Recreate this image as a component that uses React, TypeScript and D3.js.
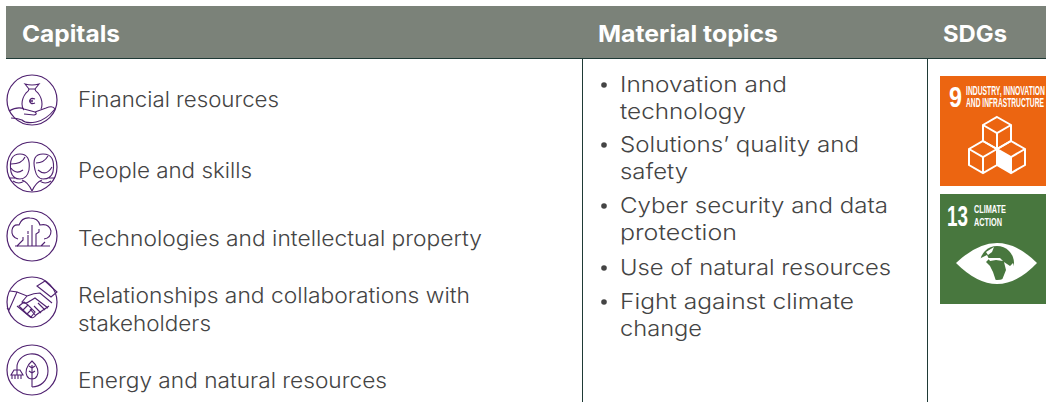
import React, { useRef, useEffect } from "react";
import * as d3 from "d3";

const headers = ["Capitals", "Material topics", "SDGs"];
const capitals = [
  ["Financial resources"],
  ["People and skills"],
  ["Technologies and intellectual property"],
  ["Relationships and collaborations with", "stakeholders"],
  ["Energy and natural resources"],
];
const topics = [
  ["Innovation and", "technology"],
  ["Solutions’ quality and", "safety"],
  ["Cyber security and data", "protection"],
  ["Use of natural resources"],
  ["Fight against climate", "change"],
];

const width = 1046;
const height = 402;
const font = "Inter, 'Open Sans', sans-serif";
const purple = "#4f2170";
const textColor = "#444444";

// row positions and text widths
const iconY = [100, 167, 236, 302, 370];
const labelY = [107, 178, 246, 303, 388];
const topicY = [92, 152, 213, 275, 309];
const headerX = [22, 598, 943];
const headerW = [98, 180, 64];
const capitalW = [[201], [174], [404], [392, 133], [309]];
const topicW = [[167, 126], [239, 68], [268, 117], [271], [234, 82]];

const cube = (x: number, y: number) => {
  const w = 14;
  const h = 8;
  const s = 16;
  return {
    outline: `M${x},${y}l${w},${h}v${s}l${-w},${h}l${-w},${-h}v${-s}z`,
    inner: `M${x - w},${y + h}l${w},${h}l${w},${-h}M${x},${y + 2 * h}v${s}`,
    leftFace: `M${x - w},${y + h}l${w},${h}v${s}l${-w},${-h}z`,
  };
};

// pictograms, drawn around the centre of each circle
const iconPaths = [
  [
    "M-7,-16L-3,-11H3L7,-16Q0,-14 -7,-16Z",
    "M-3,-11Q-3,-9 -6,-7Q-10,-2 -10,4Q-10,8 -8,10M3,-11Q3,-9 6,-7Q10,-2 10,4Q10,7 9,9",
    "M3,-1Q-2,-3 -2,1Q-2,5 3,3M-3,0.3H1M-3,1.7H1",
    "M-23,11Q-14,6 -8,9L3,12Q6,14 2,15L-8,14M3,12L14,8Q21,5 23,9Q14,20 4,22Q-6,24 -10,20Q-15,18 -21,18",
  ],
  [
    "M-21,5Q-24,-13 -12,-13Q-1,-13 -3,3Q-5,12 -12,12Q-19,12 -21,5ZM-21,-3Q-10,-3 -7,-10M-21,1Q-16,8 -9,3",
    "M21,5Q24,-13 11,-13Q-1,-13 3,3Q5,12 11,12Q19,12 21,5ZM4,-4Q12,-4 16,-11M20,0Q14,10 6,3",
    "M-23,11L-17,11M-10,13Q-4,15 0,24M10,13Q4,15 0,24V24M17,11L23,11M-19,14Q-13,18 -8,14M8,14Q13,18 19,14",
  ],
  [
    "M-14,3Q-21,1 -20,-6Q-19,-12 -13,-11Q-10,-19 -2,-18Q6,-18 8,-11Q17,-13 19,-5Q19,2 12,3",
    "M-15,10H15M-15,10L-9,4V1M-4,10V-1M0,10V-8M4,10V-2L7,-4V-7M9,10L13,6",
    "M-17,10H-14M15,10H18M-4,-2L-4,-5M0,-8L0,-11",
  ],
  [
    "M-22,-11L-15,-10L-23,8L-25,6M-15,-10L-5,-6Q2,-9 8,-9L20,1M-15,4L-3,14Q1,18 4,13L17,4M-5,-6L-10,0Q-7,3 -2,-1L3,-4L16,6",
    "M5,-16L19,-5L25,-10L13,-21Z",
    "M-13,4L-8,0L-4,3L-9,8ZM-9,8L-4,3L0,7L-5,12ZM-5,12L0,7L3,10L-1,15Z",
    "M6,1L13,8M2,4L9,11M-2,7L4,14",
  ],
  [
    "M0,17C8,17 16,11 16,1C16,-10 8,-17 -2,-16C-10,-15 -15,-9 -15,-3V5",
    "M0,-9C-6,-4 -7,2 -5,6C-4,8 -2,9 0,9C2,9 4,8 5,6C7,2 6,-4 0,-9ZM0,-5V17M0,-2L-3,-4M0,-2L3,-4M0,3L-3,1M0,3L3,1",
    "M-21,5H-9L-12,0H-18ZM-20,5V9M-17,5V9M-14,5V9M-11,5V9",
  ],
];

const App = () => {
  const svgRef = useRef<SVGSVGElement>(null);

  useEffect(() => {
    const svg = d3.select(svgRef.current);
    svg.selectAll("*").remove();

    // header band
    svg.append("rect").attr("x", 6).attr("y", 6).attr("width", width - 6).attr("height", 52).attr("fill", "#7b8279");
    svg.append("line").attr("x1", 6).attr("x2", width).attr("y1", 58.5).attr("y2", 58.5).attr("stroke", "#1f3a36");
    svg
      .selectAll("text.head")
      .data(headers)
      .enter()
      .append("text")
      .attr("class", "head")
      .attr("x", (d, i) => headerX[i])
      .attr("y", 42)
      .attr("font-family", font)
      .attr("font-weight", 700)
      .attr("font-size", 23)
      .attr("fill", "#fff")
      .attr("textLength", (d, i) => headerW[i])
      .attr("lengthAdjust", "spacingAndGlyphs")
      .text((d) => d);

    // column rules
    [582.5, 927.5].forEach((x) => {
      svg.append("line").attr("x1", x).attr("x2", x).attr("y1", 58).attr("y2", height).attr("stroke", "#1f3a36");
    });

    // capitals
    capitals.forEach((lines, i) => {
      const g = svg.append("g").attr("transform", `translate(32,${iconY[i]})`);
      g.append("circle").attr("r", 25).attr("fill", "none").attr("stroke", purple).attr("stroke-width", 1.2);
      iconPaths[i].forEach((p) => {
        g.append("path").attr("d", p).attr("fill", "none").attr("stroke", purple).attr("stroke-width", 1.1);
      });
      lines.forEach((line, j) => {
        svg
          .append("text")
          .attr("x", 78)
          .attr("y", labelY[i] + j * 28)
          .attr("font-family", font)
          .attr("font-weight", 300)
          .attr("font-size", 21)
          .attr("fill", textColor)
          .attr("textLength", capitalW[i][j])
          .attr("lengthAdjust", "spacingAndGlyphs")
          .text(line);
      });
    });

    // material topics
    topics.forEach((lines, i) => {
      svg.append("circle").attr("cx", 604).attr("cy", topicY[i] - 7).attr("r", 2.8).attr("fill", textColor);
      lines.forEach((line, j) => {
        svg
          .append("text")
          .attr("x", 620)
          .attr("y", topicY[i] + j * 27)
          .attr("font-family", font)
          .attr("font-weight", 300)
          .attr("font-size", 22)
          .attr("fill", textColor)
          .attr("textLength", topicW[i][j])
          .attr("lengthAdjust", "spacingAndGlyphs")
          .text(line);
      });
    });

    // SDG tiles, squeezed horizontally to the condensed look of the icons
    const condensed = "'Liberation Sans', sans-serif";
    const tileText = (t: string, x: number, y: number, size: number, len: number) => {
      const label = svg
        .append("text")
        .attr("font-family", condensed)
        .attr("font-weight", 700)
        .attr("font-size", size)
        .attr("fill", "#fff")
        .text(t);
      const natural = (label.node() as SVGTextElement).getComputedTextLength();
      label.attr("transform", `translate(${x},${y}) scale(${len / natural},1)`);
    };

    svg.append("rect").attr("x", 940).attr("y", 76).attr("width", 106).attr("height", 110).attr("fill", "#ec6511");
    tileText("9", 949, 107, 29, 13);
    tileText("INDUSTRY, INNOVATION", 966, 95, 12.5, 79);
    tileText("AND INFRASTRUCTURE", 966, 107, 12.5, 78);
    [cube(997, 117), cube(983, 141), cube(1011, 141)].forEach((c, i) => {
      svg.append("path").attr("d", c.outline).attr("fill", "none").attr("stroke", "#fff").attr("stroke-width", 2);
      svg.append("path").attr("d", c.inner).attr("fill", "none").attr("stroke", "#fff").attr("stroke-width", 2);
      if (i === 2) svg.append("path").attr("d", c.leftFace).attr("fill", "#fff");
    });

    svg.append("rect").attr("x", 940).attr("y", 194).attr("width", 106).attr("height", 110).attr("fill", "#48773e");
    tileText("13", 947, 226, 30, 21);
    tileText("CLIMATE", 974, 212.5, 11.5, 32);
    tileText("ACTION", 974, 226, 11.5, 28);
    svg.append("path").attr("d", "M956,263Q977,243 997,243Q1017,243 1037,263Q1017,284 997,284Q977,284 956,263Z").attr("fill", "#fff");
    svg.append("circle").attr("cx", 997).attr("cy", 263).attr("r", 17).attr("fill", "#48773e");
    svg
      .append("path")
      .attr("d", "M979,259L987,255L989,259L986,262L990,266L993,272L996,281L990,281L980,272ZM988,258L1000,258L1003,261L996,260L990,261ZM1004,262L1010,266L1013,263L1015,270L1008,278L1002,280L1006,270ZM986,252L994,247L992,252L988,255Z")
      .attr("fill", "#fff");
  }, []);

  return (
    <svg
      ref={svgRef}
      width={width}
      height={height}
      style={{ position: "fixed", left: 0, top: 0, background: "#fff" }}
    ></svg>
  );
};

export default App;
